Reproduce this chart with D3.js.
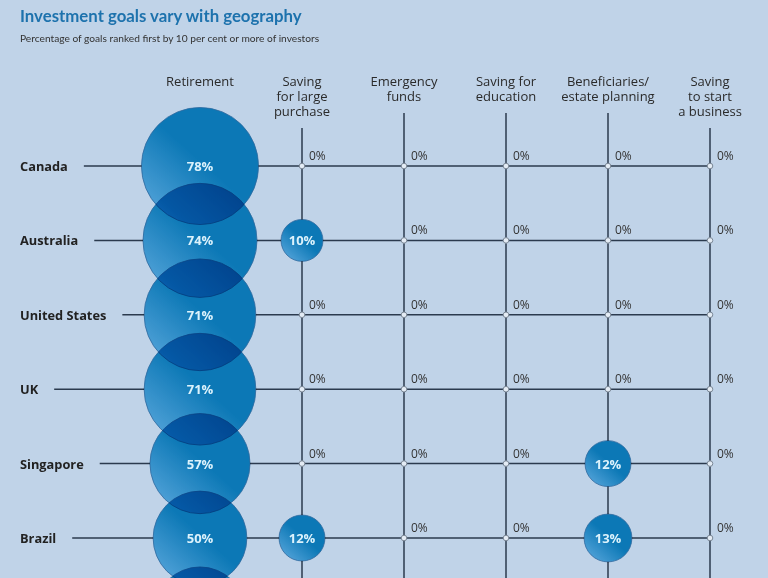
<!DOCTYPE html>
<html>
<head>
<meta charset="utf-8">
<script src="https://cdn.jsdelivr.net/npm/d3@7"></script>
<style>
  html, body { margin: 0; padding: 0; background: #c0d3e8; }
  svg { display: block; }
  .bubble { mix-blend-mode: multiply; }
</style>
</head>
<body>
<svg id="chart" width="768" height="578"></svg>
<script>
// ---- data ----
const title = "Investment goals vary with geography";
const subtitle = "Percentage of goals ranked first by 10 per cent or more of investors";
const countries = ["Canada", "Australia", "United States", "UK", "Singapore", "Brazil", ""];
const goals = ["Retirement", "Saving for large purchase", "Emergency funds", "Saving for education", "Beneficiaries/ estate planning", "Saving to start a business"];
const goalHeaderLines = [
  ["Retirement"],
  ["Saving", "for large", "purchase"],
  ["Emergency", "funds"],
  ["Saving for", "education"],
  ["Beneficiaries/", "estate planning"],
  ["Saving", "to start", "a business"]
];
const retirement    = [78, 74, 71, 71, 57, 50, 47];
const largePurchase = [0, 10, 0, 0, 0, 12, 0];
const emergency     = [0, 0, 0, 0, 0, 0, 0];
const education     = [0, 0, 0, 0, 0, 0, 0];
const beneficiaries = [0, 0, 0, 0, 12, 13, 0];
const business      = [0, 0, 0, 0, 0, 0, 0];
const seriesValues = [retirement, largePurchase, emergency, education, beneficiaries, business];

// ---- layout ----
const W = 768, H = 578;
const BG = "#c0d3e8";
const FONT = "'Open Sans', Lato, sans-serif";
const svg = d3.select("#chart");
svg.append("rect").attr("width", W).attr("height", H).attr("fill", BG);

const x = d3.scalePoint().domain(goals).range([200, 710]);
const y = d3.scalePoint().domain(d3.range(countries.length)).range([166, 166 + 74.4 * (countries.length - 1)]);
const r = d3.scaleSqrt().domain([0, 100]).range([0, 66.3]);

const cells = [];
goals.forEach((g, gi) => countries.forEach((c, ci) => cells.push({g, gi, c, ci, v: seriesValues[gi][ci]})));
const visible = d => y(d.ci) < H - 10;

// gradient
const defs = svg.append("defs");
const grad = defs.append("linearGradient").attr("id", "bubGrad")
  .attr("x1", 0.1).attr("y1", 0.9).attr("x2", 0.5).attr("y2", 0.45);
grad.append("stop").attr("offset", 0).attr("stop-color", "#6cc4ee");
grad.append("stop").attr("offset", 1).attr("stop-color", "#0f91c8");

// title
svg.append("text").attr("x", 20).attr("y", 22).text(title)
  .attr("font-family", "Lato, 'Open Sans', sans-serif").attr("font-weight", 700)
  .attr("font-size", 16.8).attr("fill", "#1d72ad");
svg.append("text").attr("x", 20).attr("y", 42).text(subtitle)
  .attr("font-family", "Lato, 'Open Sans', sans-serif")
  .attr("font-size", 10.2).attr("fill", "#333");

// headers
const hdr = svg.append("g");
goalHeaderLines.forEach((lines, gi) => {
  const t = hdr.append("text").attr("text-anchor", "middle")
    .attr("font-family", FONT).attr("font-size", 13).attr("fill", "#2a2a2a");
  lines.forEach((ln, li) => {
    t.append("tspan").attr("x", x(goals[gi])).attr("y", 86 + li * 15).text(ln);
  });
});

// row labels
const labels = svg.append("g");
const lineStarts = [];
countries.forEach((c, ci) => {
  if (y(ci) >= H - 10) { lineStarts.push(36); return; }
  const t = labels.append("text").attr("x", 20).attr("y", y(ci) + 5).text(c)
    .attr("font-family", FONT).attr("font-weight", 700)
    .attr("font-size", 12.8).attr("fill", "#222");
  lineStarts.push(20 + t.node().getComputedTextLength() + 16);
});

// grid lines
const grid = svg.append("g").attr("stroke", "#2b3a4e").attr("stroke-width", 1.5);
countries.forEach((c, ci) => {
  grid.append("line").attr("x1", lineStarts[ci]).attr("x2", x(goals[goals.length - 1]))
    .attr("y1", y(ci)).attr("y2", y(ci));
});
goals.forEach((g, gi) => {
  if (gi === 0) return;
  const n = goalHeaderLines[gi].length;
  grid.append("line").attr("x1", x(g)).attr("x2", x(g))
    .attr("y1", 86 + (n - 1) * 15 + 12).attr("y2", H + 60);
});

// dots at zero intersections
svg.append("g").selectAll("circle").data(cells.filter(d => d.v === 0 && d.gi > 0)).join("circle")
  .attr("cx", d => x(d.g)).attr("cy", d => y(d.ci)).attr("r", 2.8)
  .attr("fill", "#e4ecf5").attr("stroke", "#7a8796").attr("stroke-width", 1);

// bubbles: background masks then multiply bubbles
const bubbles = cells.filter(d => d.v > 0);
svg.append("g").selectAll("circle").data(bubbles).join("circle")
  .attr("cx", d => x(d.g)).attr("cy", d => y(d.ci)).attr("r", d => r(d.v))
  .attr("fill", BG);
svg.append("g").selectAll("circle").data(bubbles).join("circle")
  .attr("class", "bubble")
  .attr("cx", d => x(d.g)).attr("cy", d => y(d.ci)).attr("r", d => r(d.v))
  .attr("fill", "url(#bubGrad)").attr("stroke", "#3f7fae").attr("stroke-width", 0.8);

// bubble labels
svg.append("g").selectAll("text").data(bubbles.filter(visible)).join("text")
  .attr("x", d => x(d.g)).attr("y", d => y(d.ci) + 5).attr("text-anchor", "middle")
  .attr("font-family", FONT).attr("font-weight", 700)
  .attr("font-size", 13).attr("fill", "#dcf2fc")
  .text(d => d.v + "%");

// zero labels
svg.append("g").selectAll("text").data(cells.filter(d => d.v === 0 && d.gi > 0 && visible(d))).join("text")
  .attr("x", d => x(d.g) + 7).attr("y", d => y(d.ci) - 6)
  .attr("font-family", FONT)
  .attr("font-size", 12).attr("fill", "#333")
  .text(d => d.v + "%");
</script>
</body>
</html>
